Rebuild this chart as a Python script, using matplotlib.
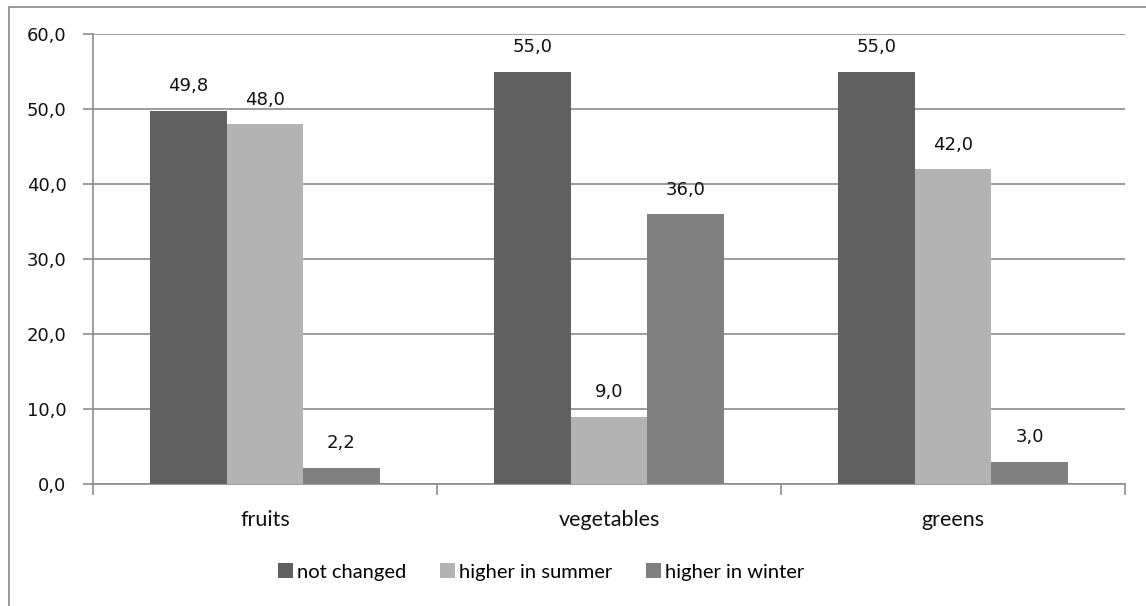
import numpy as np
import matplotlib.pyplot as plt
from matplotlib.patches import Rectangle

categories = ["fruits", "vegetables", "greens"]
series_names = ["not changed", "higher in summer", "higher in winter"]
not_changed = [49.8, 55.0, 55.0]
higher_summer = [48.0, 9.0, 42.0]
higher_winter = [2.2, 36.0, 3.0]
colors = ["#606060", "#b3b3b3", "#808080"]

W, H = 1146, 606
fig = plt.figure(figsize=(W / 100, H / 100), dpi=100)
ax = fig.add_axes([93 / W, 1 - 484 / H, (1125 - 93) / W, (484 - 34) / H])

# outer chart-area frame
fig.patches.append(Rectangle((9 / W, -0.05), 1.2, 0.05 + 1 - 7 / H, transform=fig.transFigure,
                             fill=False, edgecolor="#8a8a8a", linewidth=1.2, clip_on=False))

x = np.arange(len(categories))
bw = 1 / 4.5
grid_c = "#8c8c8c"
num_font = dict(fontsize=13, family="DejaVu Sans", color="#111111")
for i, (vals, name, c) in enumerate(zip([not_changed, higher_summer, higher_winter], series_names, colors)):
    pos = x + (i - 1) * bw
    ax.bar(pos, vals, width=bw, color=c, label=name, zorder=3)
    for p, v in zip(pos, vals):
        ax.annotate(f"{v:.1f}".replace(".", ","), (p, v), xytext=(0, 11), textcoords="offset points",
                    ha="center", va="bottom", **num_font)

ax.set_xlim(-0.5, 2.5)
ax.set_ylim(0, 60)
yt = np.arange(0, 61, 10)
ax.set_yticks(yt)
ax.set_yticklabels([f"{v:.1f}".replace(".", ",") for v in yt], **num_font)
ax.yaxis.grid(True, color=grid_c, linewidth=1.2, zorder=0)
ax.set_axisbelow(True)

ax.set_xticks([-0.5, 0.5, 1.5, 2.5])
ax.set_xticklabels([])
ax.set_xticks(x, minor=True)
ax.set_xticklabels(categories, minor=True, fontsize=15.5, family="Lato", color="#111111")
ax.tick_params(axis="x", which="major", length=8, color=grid_c, width=1.2)
ax.tick_params(axis="x", which="minor", length=0, pad=19)
ax.tick_params(axis="y", length=7, color=grid_c, width=1.2, pad=12)

for s in ["top", "right"]:
    ax.spines[s].set_visible(False)
for s in ["left", "bottom"]:
    ax.spines[s].set_color(grid_c)
    ax.spines[s].set_linewidth(1.2)

fig.legend(loc="center", bbox_to_anchor=(541 / W, 1 - 572 / H), ncol=3, frameon=False,
           handlelength=0.72, handleheight=0.72, handletextpad=0.2, columnspacing=1.7,
           prop={"family": "Lato", "size": 14.5})

fig.savefig("out.png", dpi=100)
